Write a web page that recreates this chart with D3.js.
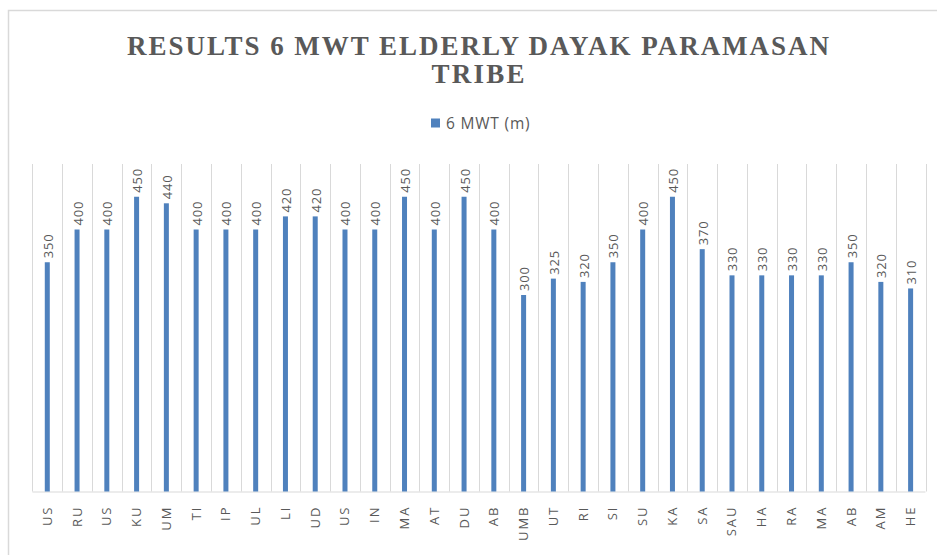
<!DOCTYPE html>
<html>
<head>
<meta charset="utf-8">
<script src="https://cdn.jsdelivr.net/npm/d3@7"></script>
<style>
  html, body { margin: 0; padding: 0; background: #fff; }
  svg { display: block; }
</style>
</head>
<body>
<svg id="chart" width="937" height="555"></svg>
<script>
const titleLines = ["RESULTS 6 MWT ELDERLY DAYAK PARAMASAN", "TRIBE"];
const seriesName = "6 MWT (m)";
const labels = ["US", "RU", "US", "KU", "UM", "TI", "IP", "UL", "LI", "UD",
  "US", "IN", "MA", "AT", "DU", "AB", "UMB", "UT", "RI", "SI",
  "SU", "KA", "SA", "SAU", "HA", "RA", "MA", "AB", "AM", "HE"];
const values = [350, 400, 400, 450, 440, 400, 400, 400, 420, 420,
  400, 400, 450, 400, 450, 400, 300, 325, 320, 350,
  400, 450, 370, 330, 330, 330, 330, 350, 320, 310];
const yDomain = [0, 500];

const svg = d3.select("#chart");
const textColor = "#595959";
const gridColor = "#d9d9d9";
const barColor = "#4f81bd";

const plot = { left: 32.4, right: 925.5, top: 164, bottom: 491.5 };

// outer chart border (bottom/right sit outside the screenshot)
svg.append("rect")
  .attr("x", 8.5).attr("y", 10.5)
  .attr("width", 1000).attr("height", 1000)
  .attr("fill", "none")
  .attr("stroke", gridColor)
  .attr("stroke-width", 1.5);

const x = d3.scaleBand()
  .domain(d3.range(labels.length))
  .range([plot.left, plot.right])
  .paddingInner(0).paddingOuter(0);

const y = d3.scaleLinear()
  .domain(yDomain)
  .range([plot.bottom, plot.top]);

// category separators
const g = svg.append("g");
g.selectAll("line.sep")
  .data(d3.range(labels.length + 1))
  .join("line")
  .attr("class", "sep")
  .attr("x1", i => Math.round(plot.left + i * x.step()) + 0.5)
  .attr("x2", i => Math.round(plot.left + i * x.step()) + 0.5)
  .attr("y1", plot.top)
  .attr("y2", plot.bottom)
  .attr("stroke", gridColor)
  .attr("stroke-width", 1);

// bottom axis line
g.append("line")
  .attr("x1", plot.left).attr("x2", plot.right)
  .attr("y1", plot.bottom + 0.5).attr("y2", plot.bottom + 0.5)
  .attr("stroke", gridColor)
  .attr("stroke-width", 1.2);

const barW = 5;
g.selectAll("rect.bar")
  .data(values)
  .join("rect")
  .attr("class", "bar")
  .attr("x", (d, i) => x(i) + x.bandwidth() / 2 - barW / 2)
  .attr("y", d => y(d))
  .attr("width", barW)
  .attr("height", d => y(0) - y(d))
  .attr("fill", barColor);

// value labels, rotated
g.selectAll("text.val")
  .data(values)
  .join("text")
  .attr("class", "val")
  .attr("transform", (d, i) => `translate(${x(i) + x.bandwidth() / 2 + 5.5},${y(d) - 4}) rotate(-90)`)
  .attr("text-anchor", "start")
  .attr("fill", textColor)
  .style("font-family", "'Open Sans', 'DejaVu Sans', sans-serif")
  .style("font-size", "13px")
  .style("letter-spacing", "0.8px")
  .text(d => d);

// category labels, rotated
g.selectAll("text.cat")
  .data(labels)
  .join("text")
  .attr("class", "cat")
  .attr("transform", (d, i) => `translate(${x(i) + x.bandwidth() / 2 + 4.5},${plot.bottom + 14}) rotate(-90)`)
  .attr("text-anchor", "end")
  .attr("fill", textColor)
  .style("font-family", "'Open Sans', 'DejaVu Sans', sans-serif")
  .style("font-size", "13px")
  .style("letter-spacing", "2px")
  .text(d => d);

// title
const titleX = 478;
svg.append("text")
  .attr("x", titleX).attr("y", 55)
  .attr("text-anchor", "middle")
  .attr("fill", textColor)
  .attr("textLength", 702)
  .attr("lengthAdjust", "spacing")
  .style("font-family", "'Liberation Serif', 'Times New Roman', serif")
  .style("font-weight", "bold")
  .style("font-size", "27px")
  .text(titleLines[0]);
svg.append("text")
  .attr("x", titleX).attr("y", 83)
  .attr("text-anchor", "middle")
  .attr("fill", textColor)
  .attr("textLength", 93)
  .attr("lengthAdjust", "spacing")
  .style("font-family", "'Liberation Serif', 'Times New Roman', serif")
  .style("font-weight", "bold")
  .style("font-size", "27px")
  .text(titleLines[1]);

// legend
svg.append("rect")
  .attr("x", 431).attr("y", 118.5)
  .attr("width", 9).attr("height", 9)
  .attr("fill", barColor);
svg.append("text")
  .attr("x", 446).attr("y", 129)
  .attr("fill", textColor)
  .style("font-family", "'Open Sans', 'DejaVu Sans', sans-serif")
  .style("font-size", "15.5px")
  .style("letter-spacing", "0.8px")
  .text(seriesName);
</script>
</body>
</html>
